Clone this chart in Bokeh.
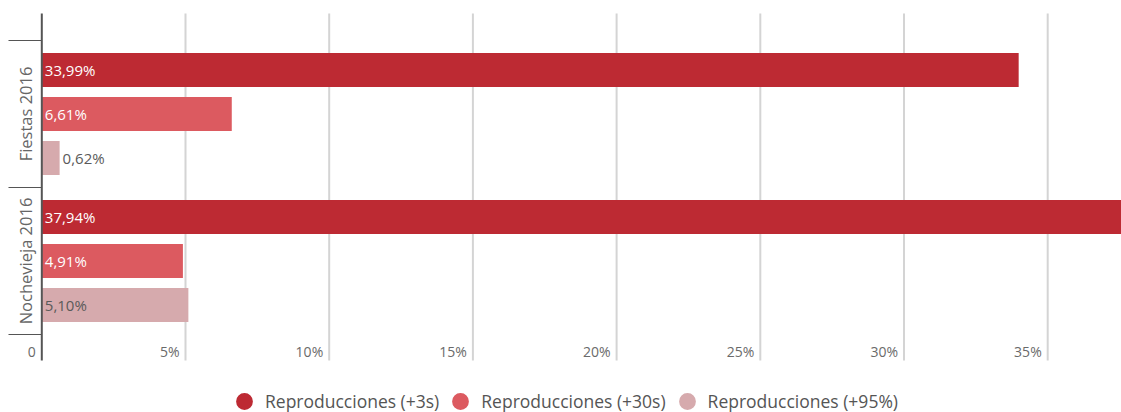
from bokeh.plotting import figure
from bokeh.models import Range1d, Legend, LegendItem, ColumnDataSource
from bokeh.core.properties import value
from bokeh.embed import file_html
from bokeh.resources import INLINE
import math

# ---- data ----
categories = ["Fiestas 2016", "Nochevieja 2016"]
series_names = ["Reproducciones (+3s)", "Reproducciones (+30s)", "Reproducciones (+95%)"]
plus3s = [33.99, 37.94]
plus30s = [6.61, 4.91]
plus95 = [0.62, 5.10]
tick_values = [0, 5, 10, 15, 20, 25, 30, 35]
tick_labels = ["0", "5%", "10%", "15%", "20%", "25%", "30%", "35%"]
colors = ["#BD2A33", "#DC5A60", "#D6AAAD"]
label_colors = ["white", "white", "#5a5a5a"]

FONT = value("Open Sans")
W, H = 1121, 412

# scale setup (px per unit)
PX_X = 28.74
X0_PX = 41.3
BLOCK_PX = 147.0
C0_PX = 113.5

def ypx(px):
    return (px - C0_PX) / BLOCK_PX

p = figure(width=W, height=H, output_backend="svg", toolbar_location=None,
           x_range=Range1d(-X0_PX / PX_X, (W - X0_PX) / PX_X),
           y_range=Range1d(ypx(H), ypx(0)),
           min_border=0, outline_line_color=None)
p.xaxis.visible = False
p.yaxis.visible = False
p.xgrid.visible = False
p.ygrid.visible = False
p.background_fill_color = "white"
p.border_fill_color = "white"

grid_top, grid_bot = ypx(13), ypx(360)

# gridlines
gx = [t for t in tick_values if t != 0]
p.segment(x0=gx, x1=gx, y0=[grid_top] * len(gx), y1=[grid_bot] * len(gx),
          line_color="#d4d4d4", line_width=2)

# bars
series_vals = [plus3s, plus30s, plus95]
pitch = 44.0 / BLOCK_PX
bar_h = 34.0 / BLOCK_PX
offsets = [-pitch, 0.0, pitch]
for si, vals in enumerate(series_vals):
    ys = [ci + offsets[si] for ci in range(len(categories))]
    src = ColumnDataSource(dict(y=ys, right=vals))
    p.hbar(y="y", right="right", left=0, height=bar_h, source=src,
           fill_color=colors[si], line_color=None)
    # labels
    for ci, v in enumerate(vals):
        txt = f"{v:.2f}".replace(".", ",") + "%"
        inside = v >= 2
        p.text(x=[0 if inside else v], y=[ys[ci]], text=[txt], x_offset=3,
               text_align="left", text_baseline="middle", text_font=FONT,
               text_font_size="15px",
               text_color=label_colors[si] if inside else "#5a5a5a")

# axis line
p.segment(x0=[0], x1=[0], y0=[grid_top], y1=[grid_bot], line_color="#555555", line_width=2)

# category separators
sep_y = [ci - 0.5 for ci in range(len(categories))] + [len(categories) - 0.5]
sep_x0 = (8 - X0_PX) / PX_X
p.segment(x0=[sep_x0] * len(sep_y), x1=[0] * len(sep_y), y0=sep_y, y1=sep_y,
          line_color="#555555", line_width=1.2)

# category labels
lab_x = (25 - X0_PX) / PX_X
p.text(x=[lab_x] * len(categories), y=list(range(len(categories))), text=categories,
       angle=math.pi / 2, text_align="center", text_baseline="middle",
       text_font=FONT, text_font_size="16.5px", text_color="#666666")

# x tick labels
p.text(x=tick_values, y=[ypx(351)] * len(tick_values), text=tick_labels,
       x_offset=-6, text_align="right", text_baseline="middle",
       text_font=FONT, text_font_size="14px", text_color="#6a6a6a")

# legend (hidden dummy points outside the visible range)
items = []
for si, name in enumerate(series_names):
    r = p.scatter(x=[-100], y=[-100], marker="circle", size=17, fill_color=colors[si], line_color=None)
    items.append(LegendItem(label=name, renderers=[r]))
G = 42  # legend marker drawn at 0.4 of glyph box -> ~17px circle
legend = Legend(items=items, orientation="horizontal", location=(223, -10),
                padding=0, margin=0, spacing=0, label_standoff=0,
                glyph_width=G, glyph_height=G, label_height=20,
                label_text_font="Open Sans", label_text_font_size="17.5px",
                label_text_color="#555555", border_line_color=None,
                background_fill_alpha=0)
p.add_layout(legend)

open("out.html", "w").write(file_html(p, INLINE))
